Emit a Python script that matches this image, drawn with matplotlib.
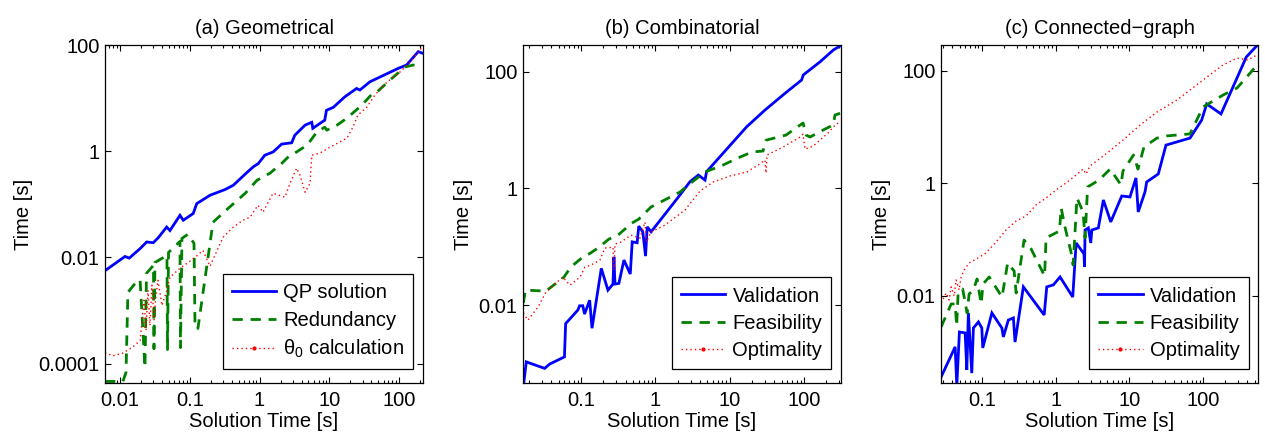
import matplotlib
matplotlib.use('Agg')
import matplotlib.pyplot as plt
from matplotlib.lines import Line2D
from matplotlib.ticker import LogLocator, NullLocator, NullFormatter

plt.rcParams['font.family'] = ['Liberation Sans', 'DejaVu Sans']
plt.rcParams['mathtext.fontset'] = 'custom'
plt.rcParams['mathtext.rm'] = 'Liberation Sans'
plt.rcParams['mathtext.it'] = 'Liberation Sans'
plt.rcParams['mathtext.bf'] = 'Liberation Sans'

FS = 14.5

# (a) Geometrical
geo_qp_x = [0.0062, 0.0118, 0.0136, 0.0194, 0.0241, 0.030, 0.0354, 0.0467, 0.052, 0.0724, 0.0807, 0.112, 0.126,
            0.195, 0.319, 0.42, 0.62, 0.81, 0.96, 1.19, 1.57, 2.07, 2.89, 3.2, 4.5, 5.6, 5.8, 8.6, 9.1, 11.4,
            16.7, 24.6, 27.4, 38.2, 97, 128, 188, 217]
geo_qp_y = [0.0057, 0.0104, 0.0097, 0.0146, 0.0195, 0.0189, 0.0235, 0.0373, 0.032, 0.062, 0.050, 0.067, 0.103,
            0.148, 0.189, 0.228, 0.368, 0.506, 0.586, 0.84, 0.97, 1.36, 1.44, 2.0, 3.1, 3.5, 2.7, 3.85, 5.9, 6.7,
            10.6, 15.2, 14.2, 20.3, 36.3, 42, 75, 70]
geo_red_x = [0.0061, 0.0110, 0.0122, 0.0130, 0.0164, 0.0194, 0.0228, 0.024, 0.0302, 0.0307, 0.0317, 0.0471,
             0.048, 0.0496, 0.0724, 0.0736, 0.0773, 0.094, 0.115, 0.119, 0.131, 0.155, 0.182, 0.215, 0.33, 0.62,
             0.92, 1.41, 2.09, 2.73, 3.2, 4.8, 6.6, 8.6, 9.2, 12.9, 17.9, 29.3, 42, 48, 74, 121, 158, 212]
geo_red_y = [4.6e-5, 4.6e-5, 6.8e-5, 0.0022, 0.0032, 0.0038, 8.4e-5, 0.0050, 0.0071, 1.9e-4, 0.0080, 0.0109,
             1.84e-4, 0.0124, 0.020, 2.0e-4, 0.0228, 0.0272, 0.0184, 4.6e-4, 4.6e-4, 0.0022, 0.0096, 0.0457,
             0.077, 0.16, 0.284, 0.385, 0.594, 0.84, 0.92, 1.30, 2.28, 2.84, 2.49, 3.1, 4.2, 7.4, 12.4, 13.0,
             21.9, 38.5, 42, 40]
geo_theta_x = [0.0061, 0.0079, 0.0107, 0.0149, 0.0194, 0.0221, 0.0236, 0.0252, 0.0269, 0.0287, 0.0307, 0.0328,
               0.035, 0.040, 0.047, 0.052, 0.072, 0.091, 0.119, 0.155, 0.195, 0.299, 0.42, 0.58, 0.73, 0.95,
               1.12, 1.56, 2.31, 2.73, 3.4, 3.8, 4.5, 5.3, 5.6, 7.3, 10.2, 17.9, 21.8, 25.7, 34.6, 45, 67, 103,
               143, 199, 219]
geo_theta_y = [1.6e-4, 1.4e-4, 1.55e-4, 2.0e-4, 2.7e-4, 0.00155, 4.2e-4, 0.0024, 5.2e-4, 0.0030, 6.5e-4,
               0.0019, 0.0037, 0.00124, 0.0024, 0.0042, 0.0062, 0.0077, 0.0100, 0.0135, 0.0068, 0.0238, 0.037,
               0.050, 0.057, 0.096, 0.071, 0.161, 0.136, 0.249, 0.478, 0.352, 0.168, 0.249, 0.84, 0.92, 1.19,
               1.76, 2.84, 4.8, 6.8, 11.4, 20, 31, 47.7, 80, 100]

# (b) Combinatorial
comb_val_x = [0.0166, 0.0184, 0.0325, 0.0379, 0.060, 0.0623, 0.091, 0.096, 0.106, 0.112, 0.131, 0.141, 0.188,
              0.231, 0.27, 0.278, 0.287, 0.324, 0.379, 0.461, 0.49, 0.57, 0.60, 0.68, 0.74, 0.78, 0.88, 2.15,
              2.93, 3.8, 4.67, 4.9, 17, 29.9, 58.6, 93, 98, 165, 249, 306]
comb_val_y = [3.5e-4, 0.00106, 8.2e-4, 9.7e-4, 0.00129, 0.0048, 0.0082, 0.0097, 0.0097, 0.0070, 0.0121, 0.0040,
              0.0425, 0.018, 0.0229, 0.067, 0.0229, 0.0235, 0.059, 0.034, 0.121, 0.117, 0.225, 0.18, 0.069,
              0.219, 0.18, 0.77, 1.30, 1.69, 1.39, 1.93, 11.4, 22, 45, 72, 88, 148, 236, 276]
comb_feas_x = [0.0168, 0.0179, 0.0338, 0.059, 0.073, 0.106, 0.128, 0.169, 0.238, 0.315, 0.485, 0.60, 0.875,
               2.15, 3.12, 4.67, 8.15, 13.8, 20, 28.2, 30.9, 57.4, 97.3, 107, 121, 181, 247, 262, 316]
comb_feas_y = [0.0108, 0.018, 0.0173, 0.030, 0.0447, 0.0664, 0.0747, 0.0946, 0.135, 0.158, 0.254, 0.297, 0.478,
               0.865, 1.28, 1.91, 2.51, 3.44, 4.2, 4.37, 6.7, 8.2, 13.2, 8.2, 7.6, 10, 12.2, 18.1, 19.6]
comb_opt_x = [0.0168, 0.0194, 0.0264, 0.0338, 0.0461, 0.0573, 0.0711, 0.097, 0.113, 0.136, 0.18, 0.21, 0.27,
              0.278, 0.287, 0.345, 0.471, 0.622, 0.727, 0.76, 0.875, 1.35, 2.51, 4.0, 5.98, 10.1, 17.1, 24.1,
              29.9, 30.9, 31.9, 52.3, 88.7, 97, 103.5, 133, 211, 270, 316]
comb_opt_y = [0.00726, 0.0055, 0.0092, 0.0166, 0.0238, 0.030, 0.0219, 0.030, 0.0447, 0.0483, 0.059, 0.0946,
              0.098, 0.0397, 0.111, 0.12, 0.158, 0.14, 0.264, 0.12, 0.178, 0.235, 0.425, 0.90, 1.28, 1.63, 1.91,
              2.51, 3.06, 1.83, 3.73, 5.1, 7.6, 8.5, 4.7, 5.3, 8.9, 12.7, 13.7]

# (c) Connected-graph
conn_val_x = [0.0281, 0.0435, 0.0458, 0.0497, 0.0594, 0.0626, 0.0658, 0.0731, 0.0769, 0.090, 0.100, 0.103,
              0.137, 0.187, 0.196, 0.229, 0.268, 0.282, 0.366, 0.70, 0.76, 0.933, 1.15, 1.71, 1.90, 2.43, 2.47,
              2.51, 2.78, 3.0, 3.1, 3.8, 4.45, 5.6, 7.9, 10.2, 12.3, 13.2, 16.3, 17.2, 24.7, 31.4, 66.5, 95.7,
              112, 175, 385, 547]
conn_val_y = [3.6e-4, 0.00123, 2.5e-4, 0.00227, 0.00218, 4.8e-4, 0.00494, 4.2e-4, 0.00267, 0.00342, 0.00267,
              0.00118, 0.00494, 0.00267, 0.00185, 0.0037, 0.00403, 0.0015, 0.0144, 0.00455, 0.0144, 0.0156,
              0.0216, 0.0095, 0.087, 0.0555, 0.0325, 0.148, 0.161, 0.087, 0.148, 0.161, 0.507, 0.206, 0.597,
              0.573, 1.25, 0.31, 0.703, 1.06, 1.47, 4.8, 6.4, 13.4, 25.9, 17.2, 177, 290]
conn_feas_x = [0.0281, 0.0384, 0.0435, 0.0456, 0.0478, 0.055, 0.0632, 0.0673, 0.0762, 0.0863, 0.098, 0.104,
               0.126, 0.142, 0.188, 0.224, 0.274, 0.292, 0.374, 0.466, 0.71, 0.743, 1.13, 1.19, 1.35, 1.62, 1.73,
               1.95, 2.36, 2.51, 2.72, 3.9, 5.5, 7.7, 8.2, 11.4, 13.1, 15.8, 23.7, 32.4, 66.5, 100, 187, 289, 556]
conn_feas_y = [0.00279, 0.00714, 0.00714, 0.0029, 0.0117, 0.0132, 0.00494, 0.0108, 0.0122, 0.0199, 0.00714,
               0.0162, 0.0216, 0.0169, 0.0095, 0.0384, 0.0276, 0.0112, 0.098, 0.068, 0.0225, 0.107, 0.142, 0.365,
               0.161, 0.060, 0.0353, 0.55, 0.31, 0.107, 0.863, 1.15, 1.80, 0.94, 1.66, 3.2, 1.80, 4.45, 6.4, 7.0,
               7.6, 22.9, 37.4, 49.9, 133]
conn_opt_x = [0.0281, 0.0328, 0.036, 0.0384, 0.0422, 0.0449, 0.0492, 0.0525, 0.0576, 0.0673, 0.089, 0.114,
              0.156, 0.213, 0.292, 0.398, 0.543, 0.743, 1.02, 1.39, 1.90, 2.36, 2.59, 2.93, 4.99, 8.2, 14, 23.7,
              44.3, 66.5, 113, 186, 288, 405, 537]
conn_opt_y = [0.00745, 0.0112, 0.0084, 0.0144, 0.0099, 0.0191, 0.0127, 0.0216, 0.0288, 0.0384, 0.0471, 0.0578,
              0.0906, 0.148, 0.214, 0.263, 0.413, 0.55, 0.764, 1.02, 1.41, 1.80, 1.47, 2.04, 3.47, 5.9, 10.9,
              18.6, 30.5, 45.9, 78, 128, 170, 157, 193]

BLUE = '#0000ff'
GREEN = '#008000'
RED = '#ff0000'
DASH = (3.7, 2.8)
DOT = (1.0, 2.2)


def draw_panel(ax, title, series, labels, xlim, ylim, xticks, yticks):
    (bx, by), (gx, gy), (rx, ry) = series
    ax.plot(bx, by, color=BLUE, lw=2.0, solid_joinstyle='miter')
    ax.plot(gx, gy, color=GREEN, lw=2.0, dashes=DASH)
    ax.plot(rx, ry, color=RED, lw=1.0, dashes=DOT)
    ax.set_xscale('log')
    ax.set_yscale('log')
    ax.set_xlim(xlim)
    ax.set_ylim(ylim)
    ax.set_xticks(xticks)
    ax.set_xticklabels(['%g' % t for t in xticks])
    ax.set_yticks(yticks)
    ax.set_yticklabels(['%g' % t if t >= 0.001 else '0.0001' for t in yticks])
    ax.xaxis.set_minor_locator(LogLocator(base=10, subs=range(2, 10), numticks=20))
    ax.xaxis.set_minor_formatter(NullFormatter())
    ax.yaxis.set_minor_locator(NullLocator())
    ax.tick_params(which='both', direction='in', top=True, right=True, labelsize=FS, width=0.8)
    ax.tick_params(axis='x', which='major', length=4, pad=6)
    ax.tick_params(axis='x', which='minor', length=2.2)
    ax.tick_params(axis='y', which='major', length=4, pad=4)
    for s in ax.spines.values():
        s.set_linewidth(0.9)
    ax.set_title(title, fontsize=FS, pad=8)
    ax.set_xlabel('Solution Time [s]', fontsize=FS, labelpad=1)
    ax.set_ylabel('Time [s]', fontsize=FS, labelpad=4)

    handles = [Line2D([], [], color=BLUE, lw=2.0),
               Line2D([], [], color=GREEN, lw=2.0, dashes=DASH),
               Line2D([], [], color=RED, lw=1.0, dashes=DOT, marker='.', markersize=4)]
    leg = ax.legend(handles, labels, loc='lower right', bbox_to_anchor=(0.970, 0.040), borderaxespad=0,
                    fontsize=FS, handlelength=2.2, handletextpad=0.35, labelspacing=0.42, borderpad=0.45,
                    fancybox=False, framealpha=1, edgecolor='black')
    leg.get_frame().set_linewidth(0.9)


fig = plt.figure(figsize=(12.65, 4.32), dpi=100)
ax1 = fig.add_axes([0.0830, 0.1134, 0.2514, 0.7824])
ax2 = fig.add_axes([0.4134, 0.1134, 0.2514, 0.7824])
ax3 = fig.add_axes([0.7439, 0.1134, 0.2506, 0.7824])

draw_panel(ax1, '(a) Geometrical',
           [(geo_qp_x, geo_qp_y), (geo_red_x, geo_red_y), (geo_theta_x, geo_theta_y)],
           ['QP solution', 'Redundancy', r'$\theta_0$ calculation'],
           (0.0061, 220), (4.3e-5, 100), [0.01, 0.1, 1, 10, 100], [1e-4, 1e-2, 1, 100])
draw_panel(ax2, '(b) Combinatorial',
           [(comb_val_x, comb_val_y), (comb_feas_x, comb_feas_y), (comb_opt_x, comb_opt_y)],
           ['Validation', 'Feasibility', 'Optimality'],
           (0.0166, 315), (4.6e-4, 287), [0.1, 1, 10, 100], [1e-2, 1, 100])
draw_panel(ax3, '(c) Connected\u2212graph',
           [(conn_val_x, conn_val_y), (conn_feas_x, conn_feas_y), (conn_opt_x, conn_opt_y)],
           ['Validation', 'Feasibility', 'Optimality'],
           (0.028, 556), (2.8e-4, 290), [0.1, 1, 10, 100], [1e-2, 1, 100])

fig.savefig('out.png', dpi=100)
